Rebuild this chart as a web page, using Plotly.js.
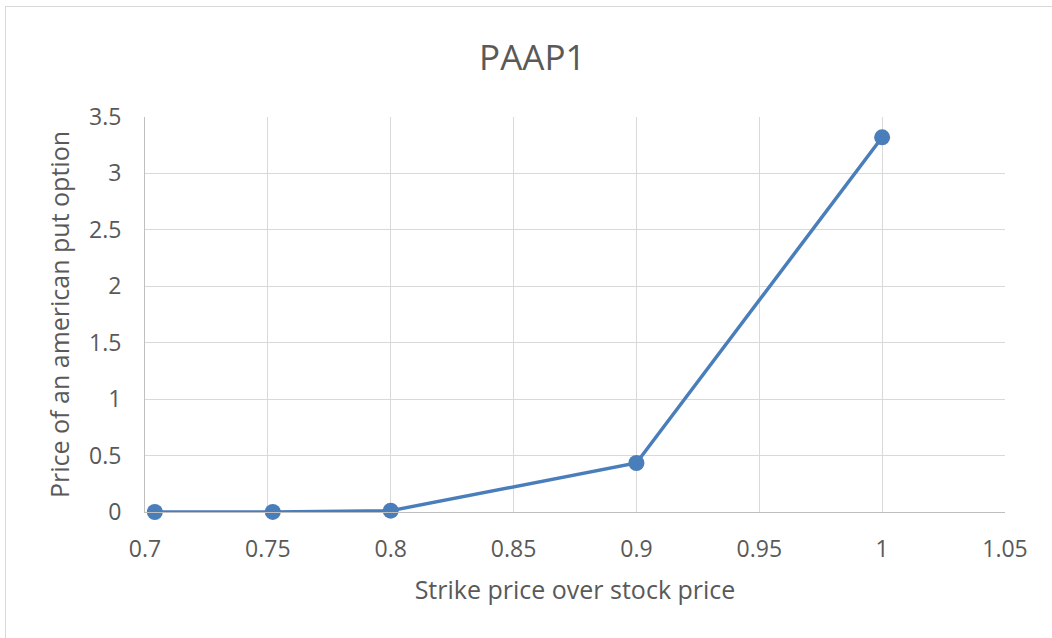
<!DOCTYPE html>
<html>
<head>
<meta charset="utf-8">
<script src="https://cdn.plot.ly/plotly-3.0.1.min.js"></script>
<style>
  html, body { margin: 0; padding: 0; background: #fff; }
  #frame { position: absolute; left: 5px; top: 6px; width: 1060px; height: 650px; border: 1px solid #d9d9d9; box-sizing: border-box; }
  #chart { position: absolute; left: 0; top: 0; width: 1052px; height: 638px; }
</style>
</head>
<body>
<div id="frame"></div>
<div id="chart"></div>
<script>
const chartTitle = "PAAP1";
const xTitle = "Strike price over stock price";
const yTitle = "Price of an american put option";
const strikeRatio = [0.704, 0.752, 0.8, 0.9, 1.0];
const putPrice = [0.0, 0.001, 0.012, 0.434, 3.32];
const xTickVals = [0.7, 0.75, 0.8, 0.85, 0.9, 0.95, 1, 1.05];
const xTickText = ["0.7", "0.75", "0.8", "0.85", "0.9", "0.95", "1", "1.05"];
const yTickVals = [0, 0.5, 1, 1.5, 2, 2.5, 3, 3.5];
const yTickText = ["0", "0.5", "1", "1.5", "2", "2.5", "3", "3.5"];

const fontFam = "Open Sans, Liberation Sans, sans-serif";
const trace = {
  x: strikeRatio, y: putPrice, type: "scatter", mode: "lines+markers",
  line: { color: "#4a7ebb", width: 3.5 },
  marker: { color: "#4a7ebb", size: 16 },
  cliponaxis: false, hoverinfo: "x+y"
};
const layout = {
  width: 1052, height: 638,
  paper_bgcolor: "rgba(0,0,0,0)", plot_bgcolor: "#fff",
  margin: { l: 145, r: 47, t: 117, b: 126 },
  showlegend: false,
  title: { text: chartTitle, x: 0.506, xanchor: "center", y: 0.909, yanchor: "middle",
           font: { family: fontFam, size: 35, color: "#595959" } },
  xaxis: {
    range: [0.7, 1.05], tickvals: xTickVals, ticktext: xTickText,
    showgrid: true, gridcolor: "#d9d9d9", gridwidth: 1,
    zeroline: false, showline: true, linecolor: "#bfbfbf", linewidth: 1,
    ticks: "", ticklabelstandoff: 16, tickfont: { family: fontFam, size: 23, color: "#595959" },
    title: { text: xTitle, font: { family: fontFam, size: 25, color: "#595959" }, standoff: 18 }
  },
  yaxis: {
    range: [0, 3.5], tickvals: yTickVals, ticktext: yTickText,
    showgrid: true, gridcolor: "#d9d9d9", gridwidth: 1,
    zeroline: false, showline: true, linecolor: "#bfbfbf", linewidth: 1,
    ticks: "", ticklabelstandoff: 18, tickfont: { family: fontFam, size: 23, color: "#595959" },
    title: { text: yTitle, font: { family: fontFam, size: 25, color: "#595959" }, standoff: 12 }
  }
};
Plotly.newPlot("chart", [trace], layout, { displayModeBar: false, staticPlot: true });
</script>
</body>
</html>
